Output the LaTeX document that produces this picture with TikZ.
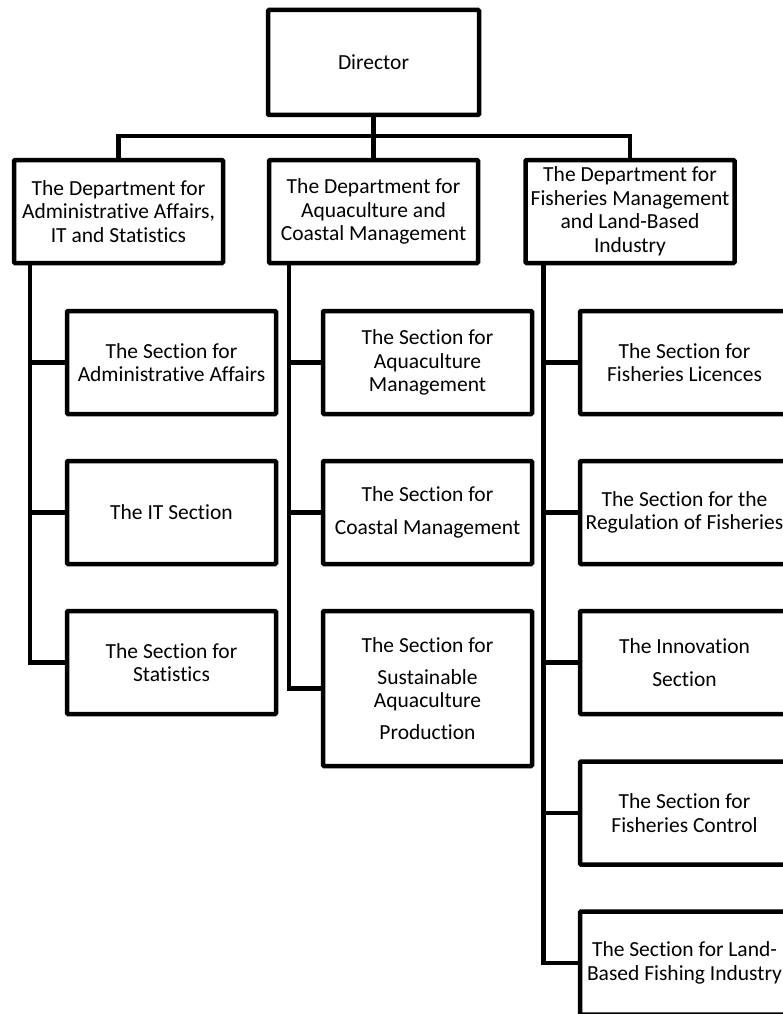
\documentclass[tikz,border=0pt]{standalone}
\usepackage{fontspec}
\setmainfont{Carlito}[Ligatures=CommonOff]
\begin{document}
\begin{tikzpicture}[x=1pt,y=-1pt,
  box/.style={draw=black,line width=4.5pt,fill=white,minimum width=209pt,minimum height=103pt,
    inner sep=0pt,align=center,font=\fontsize{21.5}{23.5}\selectfont,text=black,rounded corners=1pt},
  link/.style={draw=black,line width=4.5pt}]
\useasboundingbox (0,0) rectangle (783,1014);
\clip (0,0) rectangle (783,1014);
\fill[white] (0,0) rectangle (783,1014);

\node[box,minimum width=211pt,minimum height=105pt] (dir) at (373.5,62.5) {Director};

\node[box] (d1) at (118.5,211.5) {The Department for\\Administrative Affairs,\\IT and Statistics};
\node[box] (d2) at (373.5,211.5) {The Department for\\Aquaculture and\\Coastal Management};
\node[box] (d3) at (630,211.5) {The Department for\\Fisheries Management\\and Land-Based\\Industry};

\node[box] (s11) at (171.5,362.5) {The Section for\\Administrative Affairs};
\node[box] (s12) at (171.5,512.5) {The IT Section};
\node[box] (s13) at (171.5,662.5) {The Section for\\Statistics};

\node[box] (s21) at (427.5,362.5) {The Section for\\Aquaculture\\Management};
\node[box] (s22) at (427.5,512.5) {The Section for\\[9pt]Coastal Management};
\node[box,minimum height=155pt] (s23) at (427.5,688.5) {The Section for\\[8pt]Sustainable\\Aquaculture\\[8pt]Production};

\node[box] (s31) at (684.5,362.5) {The Section for\\Fisheries Licences};
\node[box] (s32) at (684.5,512.5) {The Section for the\\Regulation of Fisheries};
\node[box] (s33) at (684.5,662.5) {The Innovation\\[9pt]Section};
\node[box] (s34) at (684.5,813) {The Section for\\Fisheries Control};
\node[box] (s35) at (684.5,963) {The Section for Land-\\Based Fishing Industry};

\coordinate (bus) at (373.5,136);
\draw[link] (dir.south) -- (d2.north);
\draw[link] (d1.north) |- (bus) -| (d3.north);

\foreach \s in {s11,s12,s13}
  \draw[link] ([xshift=18pt]d1.south west) |- (\s.west);
\foreach \s in {s21,s22,s23}
  \draw[link] ([xshift=22pt]d2.south west) |- (\s.west);
\foreach \s in {s31,s32,s33,s34,s35}
  \draw[link] ([xshift=20pt]d3.south west) |- (\s.west);
\end{tikzpicture}
\end{document}
